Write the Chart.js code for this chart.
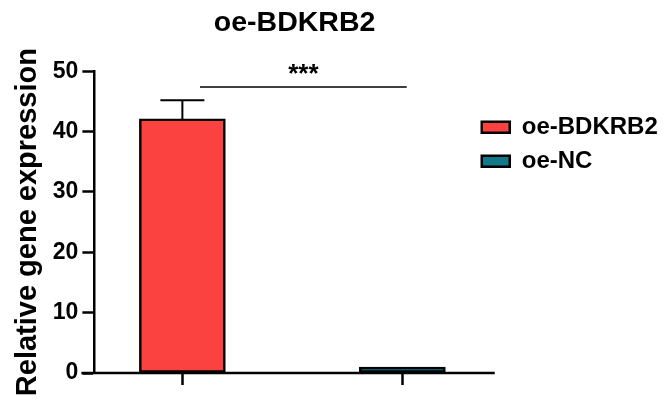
<!DOCTYPE html>
<html>
<head>
<meta charset="utf-8">
<script src="https://cdn.jsdelivr.net/npm/chart.js@4/dist/chart.umd.min.js"></script>
<style>
  html, body { margin: 0; padding: 0; background: #ffffff; }
  #wrap { width: 670px; height: 400px; }
</style>
</head>
<body>
<div id="wrap"><canvas id="chart" width="670" height="400"></canvas></div>
<script>
// Groups and measured relative expression (mean and error)
const groups = ['oe-BDKRB2', 'oe-NC'];
const groupPos = [0, 1];
const means = [42.1, 1.0];
const errors = [3.1, 0];
const groupColors = ['#FC4141', '#12788A'];
const yTicks = [0, 10, 20, 30, 40, 50];
const xTicks = [0, 1];

// Significance bracket between the two groups
const sigFrom = 0.08;
const sigTo = 1.02;
const sigLevel = 47.4;
const sigLabel = '***';

const FONT = "'Liberation Sans', Arial, Helvetica, sans-serif";
const AXIS_W = 2.5;
const X_MIN = -0.4;
const X_MAX = 1.42;         // the x axis line runs to the right edge of the plot
const Y_AXIS_OVERHANG = 13; // x axis line starts this far left of the y axis
const LEGEND_SHIFT = { x: -23, y: 34 };

Chart.defaults.font.family = FONT;
Chart.defaults.color = '#000000';

const axisLine = {
  id: 'axisLine',
  afterDraw(chart) {
    const { ctx, chartArea, scales } = chart;
    const y0 = scales.y.getPixelForValue(0);
    ctx.save();
    ctx.strokeStyle = '#000';
    ctx.lineWidth = AXIS_W;
    ctx.beginPath();
    ctx.moveTo(chartArea.left - Y_AXIS_OVERHANG, y0);
    ctx.lineTo(scales.x.getPixelForValue(X_MAX), y0);
    ctx.stroke();
    ctx.restore();
  }
};

const errorBars = {
  id: 'errorBars',
  afterDatasetsDraw(chart) {
    const { ctx, scales } = chart;
    ctx.save();
    ctx.strokeStyle = '#000';
    ctx.lineWidth = 2;
    means.forEach((m, i) => {
      if (!errors[i]) return;
      const x = scales.x.getPixelForValue(groupPos[i]);
      const yTop = scales.y.getPixelForValue(m + errors[i]);
      const yBar = scales.y.getPixelForValue(m);
      ctx.beginPath();
      ctx.moveTo(x, yBar);
      ctx.lineTo(x, yTop);
      ctx.moveTo(x - 22, yTop);
      ctx.lineTo(x + 22, yTop);
      ctx.stroke();
    });
    ctx.restore();
  }
};

const sigBracket = {
  id: 'sigBracket',
  afterDraw(chart) {
    const { ctx, scales } = chart;
    const x1 = scales.x.getPixelForValue(sigFrom);
    const x2 = scales.x.getPixelForValue(sigTo);
    const y = scales.y.getPixelForValue(sigLevel);
    ctx.save();
    ctx.strokeStyle = '#000';
    ctx.lineWidth = 1.5;
    ctx.beginPath();
    ctx.moveTo(x1, y);
    ctx.lineTo(x2, y);
    ctx.stroke();
    ctx.fillStyle = '#000';
    ctx.font = 'bold 26px ' + FONT;
    ctx.textAlign = 'center';
    ctx.textBaseline = 'alphabetic';
    ctx.fillText(sigLabel, (x1 + x2) / 2, y - 5);
    ctx.restore();
  }
};

// Nudge the legend block up-left, keeping its right edge so labels are not clipped
const legendPlacement = {
  id: 'legendPlacement',
  afterLayout(chart) {
    const lg = chart.legend;
    lg.left += LEGEND_SHIFT.x;
    lg.width = lg.right - lg.left;
    lg.top += LEGEND_SHIFT.y; lg.bottom += LEGEND_SHIFT.y;
  }
};

new Chart(document.getElementById('chart'), {
  type: 'bar',
  data: {
    datasets: [{
      label: 'expression',
      data: groupPos.map((x, i) => ({ x, y: means[i] })),
      backgroundColor: groupColors,
      borderColor: '#000000',
      borderWidth: 2.5,
      borderSkipped: false,
      barThickness: 86
    }]
  },
  options: {
    responsive: false,
    animation: false,
    devicePixelRatio: 1,
    layout: { padding: { left: 2, right: 11, top: 0, bottom: 15 } },
    scales: {
      x: {
        type: 'linear',
        offset: false,
        min: X_MIN,
        max: X_MAX,
        afterBuildTicks(scale) { scale.ticks = xTicks.map(v => ({ value: v })); },
        ticks: { display: false },
        border: { display: false },
        grid: {
          offset: false,
          drawOnChartArea: false,
          drawTicks: true,
          tickLength: 12,
          tickWidth: AXIS_W,
          tickColor: '#000',
          color: '#000'
        }
      },
      y: {
        min: 0,
        max: 50,
        afterBuildTicks(scale) { scale.ticks = yTicks.map(v => ({ value: v })); },
        ticks: {
          font: { size: 23, weight: 'bold' },
          color: '#000',
          padding: 4
        },
        border: { display: true, color: '#000', width: AXIS_W },
        grid: {
          drawOnChartArea: false,
          drawTicks: true,
          tickLength: 12,
          tickWidth: AXIS_W,
          tickColor: '#000'
        },
        title: {
          display: true,
          text: 'Relative gene expression',
          font: { size: 29, weight: 'bold' },
          color: '#000',
          padding: { top: 9, bottom: 3 }
        }
      }
    },
    plugins: {
      title: {
        display: true,
        text: 'oe-BDKRB2',
        font: { size: 28.5, weight: 'bold' },
        color: '#000',
        fullSize: false,
        padding: { top: 6, bottom: 31 }
      },
      legend: {
        position: 'right',
        align: 'start',
        fullSize: false,
        labels: {
          boxWidth: 28,
          boxHeight: 11,
          padding: 10,
          font: { size: 24, weight: 'bold' },
          color: '#000',
          generateLabels() {
            return groups.map((g, i) => ({
              text: g,
              fillStyle: groupColors[i],
              strokeStyle: '#000',
              lineWidth: 2.5,
              hidden: false,
              datasetIndex: 0,
              index: i
            }));
          }
        }
      },
      tooltip: { enabled: false }
    }
  },
  plugins: [axisLine, errorBars, sigBracket, legendPlacement]
});
</script>
</body>
</html>
